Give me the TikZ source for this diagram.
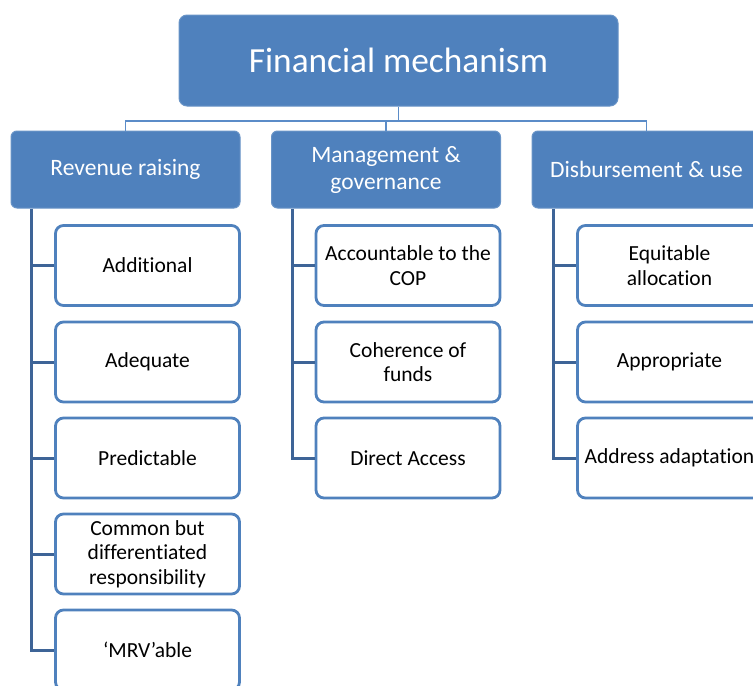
\documentclass[tikz,border=0pt]{standalone}
\usepackage{fontspec}
\setmainfont[Ligatures={NoCommon}]{Carlito}
\definecolor{accent}{HTML}{4F81BD}
\definecolor{trunk}{HTML}{3E6497}
\definecolor{thinline}{HTML}{5B8CC8}
\tikzset{
  topbox/.style={draw=accent!85!white, line width=1pt, fill=accent, rounded corners=8pt,
    minimum width=439pt, minimum height=91pt, inner sep=0pt, text=white,
    font=\fontsize{35.3}{42}\selectfont},
  catbox/.style={draw=accent!85!white, line width=1pt, fill=accent, rounded corners=6pt,
    minimum width=229pt, minimum height=77pt, inner sep=0pt, text=white, align=center,
    font=\fontsize{23.5}{27}\selectfont},
  itembox/.style={draw=accent, line width=2.8pt, fill=white, rounded corners=8pt,
    minimum width=184pt, minimum height=80pt, inner sep=0pt, text=black, align=center,
    font=\fontsize{21.5}{24.5}\selectfont},
  hub/.style={draw=thinline, line width=1.3pt},
  trunkline/.style={draw=trunk, line width=3pt},
}
\begin{document}
\begin{tikzpicture}[x=1pt,y=-1pt]
\useasboundingbox (0,0) rectangle (753,686);
\clip (0,0) rectangle (753,686);
% top
\node[topbox] (top) at (398.5,60.5) {Financial mechanism};
% categories
\node[catbox] (rev) at (125.5,169.5) {Revenue raising};
\node[catbox] (man) at (386,169.5) {Management \&\\governance};
\node[catbox] (dis) at (646.5,169.5) {Disbursement \& use};
% top connectors
\coordinate (hubpt) at (398.5,121);
\draw[hub] (top.south) -- (hubpt);
\draw[hub] (hubpt) -| (rev.north);
\draw[hub] (hubpt) -| (man.north);
\draw[hub] (hubpt) -| (dis.north);
% items left
\node[itembox] (add) at (147.5,265.5) {Additional};
\node[itembox] (adq) at (147.5,362) {Adequate};
\node[itembox] (pre) at (147.5,458) {Predictable};
\node[itembox] (cbd) at (147.5,554) {Common but\\differentiated\\responsibility};
\node[itembox] (mrv) at (147.5,650) {‘MRV’able};
% items middle
\node[itembox] (acc) at (408,265.5) {Accountable to the\\COP};
\node[itembox] (coh) at (408,362) {Coherence of\\funds};
\node[itembox] (dir) at (408,458) {Direct Access};
% items right
\node[itembox] (equ) at (669.5,265.5) {Equitable\\allocation};
\node[itembox] (app) at (669.5,362) {Appropriate};
\node[itembox] (ada) at (669.5,458) {Address adaptation};
% trunks
\draw[trunkline] ([xshift=21pt]rev.south west) |- (mrv.west);
\foreach \n in {add,adq,pre,cbd} \draw[trunkline] ([xshift=21pt]rev.south west |- \n.west) -- (\n.west);
\draw[trunkline] ([xshift=21pt]man.south west) |- (dir.west);
\foreach \n in {acc,coh} \draw[trunkline] ([xshift=21pt]man.south west |- \n.west) -- (\n.west);
\draw[trunkline] ([xshift=22pt]dis.south west) |- (ada.west);
\foreach \n in {equ,app} \draw[trunkline] ([xshift=22pt]dis.south west |- \n.west) -- (\n.west);
\end{tikzpicture}
\end{document}
